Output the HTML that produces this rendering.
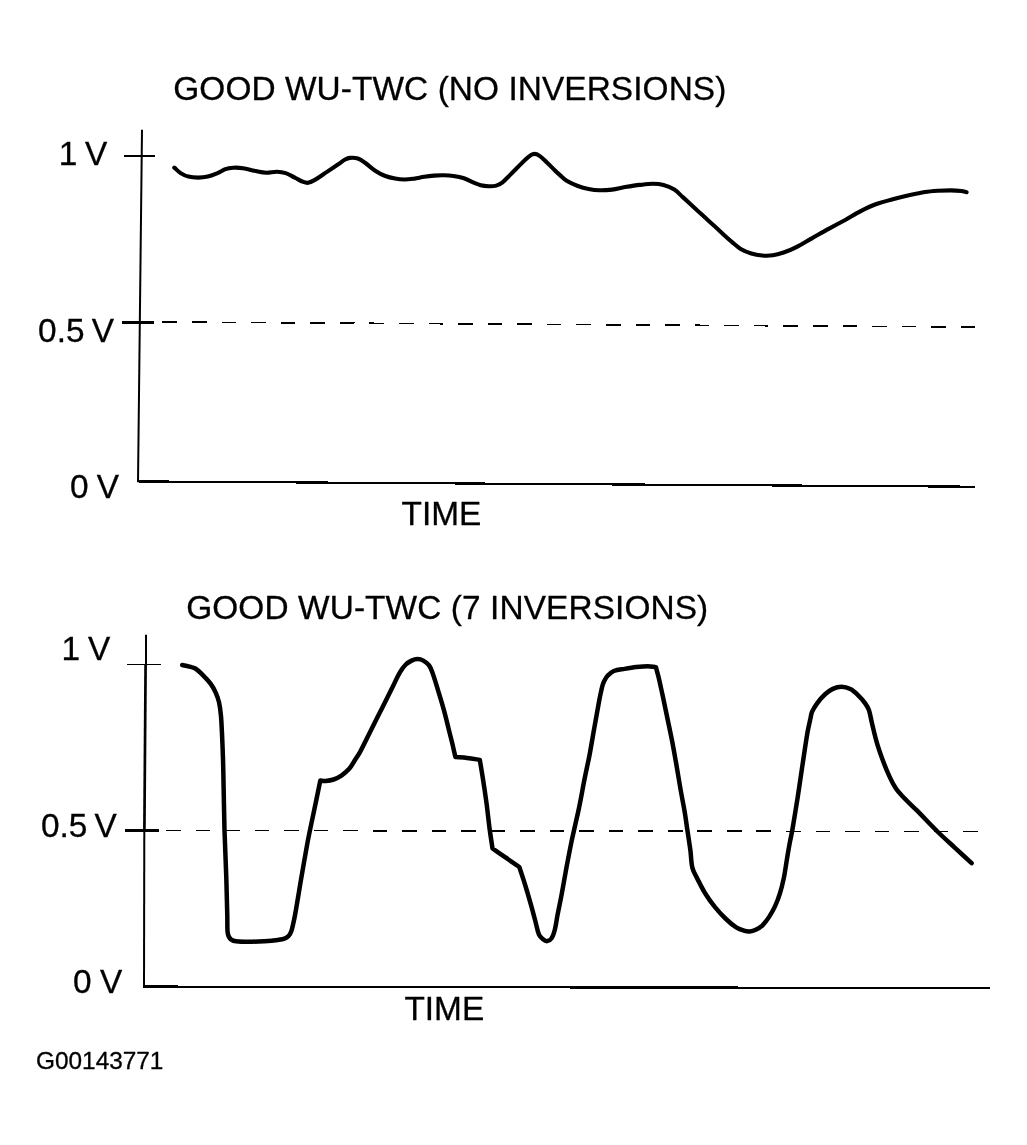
<!DOCTYPE html>
<html lang="en">
<head>
<meta charset="utf-8">
<title>GOOD WU-TWC inversions</title>
<style>
html,body{margin:0;padding:0;background:#fff;}
body{width:1027px;height:1145px;overflow:hidden;}
svg{display:block;will-change:transform;transform:translateZ(0);}
text{font-family:"Liberation Sans",sans-serif;fill:#000;stroke:#000;stroke-width:0.3px;}
.t{font-size:33.4px;}
.g{font-size:24.4px;}
.ax{stroke:#000;fill:none;stroke-linecap:butt;shape-rendering:crispEdges;}
.va{shape-rendering:geometricPrecision;}
.cv{stroke:#000;fill:none;stroke-width:4.5;stroke-linecap:round;stroke-linejoin:round;}
</style>
</head>
<body>
<svg width="1027" height="1145" viewBox="0 0 1027 1145">
<rect width="1027" height="1145" fill="#fff"/>

<!-- ===== chart 1 ===== -->
<text class="t" x="173.3" y="100.3" textLength="553" lengthAdjust="spacing">GOOD WU-TWC (NO INVERSIONS)</text>
<text class="t" y="165.1"><tspan x="58.7">1</tspan> <tspan x="85">V</tspan></text>
<text class="t" y="341.8"><tspan x="38.1">0.5</tspan> <tspan x="91.7">V</tspan></text>
<text class="t" y="498.3"><tspan x="70">0</tspan> <tspan x="96.7">V</tspan></text>
<text class="t" x="401.6" y="525">TIME</text>
<!-- axes -->
<path class="ax va" stroke-width="2" d="M142 129.8L138 482.3"/>
<path class="ax" stroke-width="2.2" d="M137 481.4L975 486.7"/>
<path class="ax" stroke-width="2" d="M124 156H155"/>
<path class="ax" stroke-width="3" d="M122 322.5H154"/>
<path class="ax" stroke-width="1.6" stroke-dasharray="14.6 14.97" d="M162.5 322L975 327"/>
<path class="cv" style="stroke-width:4.1" d="M174.3 167.6C176.4 169.4 178.3 171.6 180.6 173.1C183.0 174.6 185.6 175.9 188.4 176.6C191.5 177.4 194.8 177.6 198.1 177.6C201.4 177.6 204.6 177.3 207.8 176.6C211.2 175.8 214.4 174.4 217.6 173.1C220.3 172.0 222.7 170.2 225.4 169.2C227.9 168.3 230.6 167.9 233.2 167.7C236.4 167.5 239.7 167.7 242.9 168.2C246.9 168.8 250.7 170.0 254.6 170.8C258.5 171.5 262.4 172.5 266.3 172.7C269.9 172.8 273.4 171.6 277.0 171.7C279.9 171.8 282.9 172.2 285.7 173.1C289.2 174.3 292.2 176.4 295.5 178.0C298.1 179.3 300.6 180.9 303.3 181.9C304.8 182.5 306.5 183.1 308.1 182.8C310.5 182.4 312.8 181.1 314.9 179.9C319.0 177.6 322.7 174.7 326.6 172.1C330.5 169.5 334.4 166.9 338.3 164.3C340.6 162.7 342.7 160.8 345.1 159.5C346.6 158.7 348.3 158.0 350.0 157.9C352.6 157.7 355.3 157.7 357.8 158.5C360.5 159.4 362.7 161.2 365.0 162.8C368.7 165.4 371.9 168.6 375.6 171.0C378.6 173.0 381.9 174.7 385.3 176.0C388.4 177.2 391.8 178.0 395.1 178.6C398.3 179.2 401.6 179.5 404.8 179.5C408.0 179.5 411.3 179.0 414.5 178.6C417.8 178.1 421.0 177.3 424.3 176.8C427.5 176.3 430.8 175.9 434.0 175.6C437.2 175.3 440.5 175.1 443.7 175.2C447.0 175.3 450.3 175.5 453.5 176.0C456.8 176.5 460.1 177.0 463.2 178.0C466.6 179.1 469.7 180.9 473.0 182.3C475.5 183.3 478.0 184.5 480.7 185.2C483.2 185.8 485.9 186.1 488.5 186.2C491.1 186.3 493.8 186.3 496.3 185.6C498.4 185.0 500.5 183.9 502.2 182.6C505.0 180.4 507.4 177.6 509.9 175.1C512.5 172.5 515.1 169.9 517.7 167.3C520.3 164.7 522.8 162.0 525.5 159.5C527.1 158.0 528.6 156.5 530.4 155.4C531.6 154.7 532.9 153.9 534.3 153.9C536.0 153.9 537.8 154.6 539.2 155.6C542.0 157.5 544.4 160.1 546.9 162.4C549.6 164.9 552.1 167.6 554.7 170.2C556.4 171.9 558.2 173.5 560.0 175.1C562.3 177.1 564.5 179.5 567.1 181.1C570.4 183.1 574.1 184.6 577.8 186.0C581.3 187.3 584.9 188.3 588.6 189.0C592.1 189.7 595.7 190.2 599.3 190.3C603.6 190.4 607.9 190.1 612.1 189.6C616.4 189.1 620.7 187.8 625.0 187.1C630.0 186.3 635.0 185.5 640.0 184.9C644.3 184.4 648.5 183.8 652.8 183.8C656.4 183.8 660.0 184.0 663.5 184.9C667.3 185.9 671.0 187.5 674.3 189.6C677.5 191.6 680.0 194.6 682.8 197.1C687.1 201.0 691.4 205.0 695.7 208.9C700.0 212.8 704.2 216.8 708.5 220.7C712.8 224.6 717.1 228.6 721.4 232.5C724.9 235.7 728.5 239.0 732.1 242.1C734.9 244.5 737.5 247.1 740.7 249.0C744.0 251.0 747.7 252.4 751.4 253.5C754.9 254.6 758.5 255.2 762.1 255.5C765.7 255.8 769.3 255.8 772.9 255.3C776.6 254.8 780.1 253.7 783.6 252.5C788.0 251.0 792.3 249.2 796.4 247.1C801.5 244.5 806.4 241.4 811.4 238.6C817.1 235.4 822.8 232.1 828.6 228.9C834.3 225.8 840.0 222.8 845.7 219.7C850.7 216.9 855.6 213.7 860.7 211.1C865.6 208.6 870.5 206.2 875.7 204.3C881.3 202.3 887.1 200.8 892.8 199.3C898.5 197.8 904.2 196.4 910.0 195.1C915.0 194.0 920.0 192.9 925.0 192.1C929.2 191.4 933.5 191.1 937.8 190.8C942.1 190.5 946.4 190.4 950.7 190.4C954.3 190.4 957.9 190.6 961.4 191.0C963.2 191.2 964.9 191.8 966.6 192.2"/>

<!-- ===== chart 2 ===== -->
<text class="t" x="186.2" y="619.4" textLength="522" lengthAdjust="spacing">GOOD WU-TWC (7 INVERSIONS)</text>
<text class="t" y="660.3"><tspan x="61.4">1</tspan> <tspan x="88">V</tspan></text>
<text class="t" y="837"><tspan x="41">0.5</tspan> <tspan x="94.6">V</tspan></text>
<text class="t" y="993"><tspan x="73">0</tspan> <tspan x="100.1">V</tspan></text>
<text class="t" x="404.4" y="1020">TIME</text>
<!-- axes -->
<path class="ax va" stroke-width="2" d="M146 634.8V664"/><path class="ax va" stroke-width="2.7" d="M145.6 664L144.4 830"/><path class="ax va" stroke-width="2" d="M144.3 830L144 987.7"/>
<path class="ax" stroke-width="2.3" d="M143 986.6L990 988.1"/>
<path class="ax" stroke-width="1" d="M127 664.5H161"/>
<path class="ax" stroke-width="3" d="M124.5 830.5H158.8"/>
<path class="ax" stroke-width="1.4" stroke-dasharray="14.6 14.92" d="M166.1 830.6L979 831.4"/>
<path class="cv" d="M182.2 665.0C184.6 665.5 187.1 666.0 189.5 666.6C191.5 667.1 193.6 667.4 195.3 668.5C198.2 670.4 200.7 672.9 203.1 675.3C205.9 678.1 208.6 680.9 210.9 684.1C212.9 686.8 214.5 689.8 215.8 692.8C217.2 696.0 218.4 699.2 219.1 702.6C220.1 707.1 220.6 711.6 221.0 716.2C221.5 722.0 221.7 727.9 222.0 733.7C222.4 742.2 222.7 750.6 223.0 759.1C223.3 768.2 223.4 777.2 223.6 786.3C223.9 800.9 224.1 815.5 224.5 830.1C225.0 845.9 225.8 861.8 226.3 877.6C226.7 890.4 227.0 903.2 227.3 916.0C227.4 921.0 227.2 926.0 227.5 931.0C227.6 932.7 227.8 934.4 228.5 936.0C229.1 937.4 230.1 938.7 231.3 939.6C232.7 940.6 234.3 941.1 236.0 941.3C240.2 941.8 244.5 941.8 248.7 941.8C253.9 941.8 259.1 941.5 264.3 941.2C268.8 940.9 273.4 940.5 277.9 939.9C280.1 939.6 282.4 939.4 284.5 938.6C286.0 938.0 287.5 937.2 288.6 936.0C289.8 934.7 290.6 933.1 291.2 931.5C292.0 929.5 292.4 927.3 292.9 925.2C293.8 921.2 294.7 917.1 295.4 913.0C297.5 901.3 299.3 889.6 301.3 877.9C303.2 866.9 305.1 855.8 307.1 844.8C308.4 837.6 309.9 830.5 311.4 823.4C312.9 816.3 314.4 809.1 315.9 802.0C317.4 794.9 318.8 787.7 320.3 780.6C322.1 780.7 324.0 781.1 325.8 780.9C328.4 780.7 331.1 780.3 333.6 779.5C336.4 778.6 339.0 777.2 341.4 775.6C344.2 773.6 346.9 771.4 349.2 768.8C351.5 766.2 353.1 763.0 355.0 760.0C356.7 757.4 358.5 754.8 360.0 752.1C364.1 744.4 367.8 736.5 371.7 728.7C375.6 720.9 379.5 713.2 383.4 705.4C386.6 698.9 389.9 692.4 393.1 685.9C395.4 681.4 397.3 676.7 399.9 672.3C401.6 669.5 403.5 666.8 405.8 664.5C407.4 662.9 409.5 661.6 411.6 660.6C413.4 659.8 415.4 659.1 417.4 659.1C419.4 659.1 421.5 659.6 423.3 660.6C425.5 661.8 427.6 663.4 429.1 665.4C431.0 668.0 431.9 671.2 433.0 674.2C434.8 679.3 436.3 684.6 437.9 689.8C439.9 696.3 441.9 702.8 443.7 709.3C445.5 715.7 447.0 722.2 448.6 728.7C449.9 733.9 451.2 739.1 452.5 744.3C453.5 748.5 454.4 752.8 455.4 757.0C459.3 757.3 463.2 757.4 467.1 757.9C471.4 758.4 475.6 759.2 479.8 759.9C480.8 765.7 481.8 771.6 482.7 777.4C484.1 786.2 485.4 794.9 486.6 803.7C487.7 812.1 488.5 820.5 489.6 828.9C490.5 835.4 491.5 841.9 492.5 848.4C496.7 851.3 500.9 854.3 505.1 857.2C509.8 860.5 514.6 863.7 519.3 867.0C521.1 872.5 523.0 878.0 524.7 883.5C526.7 889.9 528.6 896.4 530.4 902.9C532.1 908.7 533.6 914.6 535.2 920.5C536.5 925.2 537.1 930.1 539.0 934.6C539.8 936.5 541.4 938.0 543.0 939.3C544.2 940.3 545.8 941.3 547.3 941.1C549.0 940.9 550.6 939.6 551.6 938.2C553.2 935.8 554.0 933.0 554.7 930.2C556.0 925.1 556.6 919.8 557.6 914.6C558.9 908.1 560.3 901.7 561.5 895.2C563.2 886.1 564.7 877.0 566.4 867.9C568.0 859.5 569.6 851.0 571.3 842.6C572.5 836.7 573.9 830.9 575.2 825.1C576.5 819.2 577.9 813.4 579.1 807.5C581.0 798.3 582.6 789.0 584.4 779.8C586.0 771.6 587.9 763.4 589.5 755.2C591.2 746.1 592.7 737.0 594.3 727.9C595.9 718.8 597.5 709.7 599.2 700.6C600.1 696.0 601.0 691.5 602.1 687.0C602.6 685.0 603.2 683.0 604.1 681.2C605.2 679.1 606.4 677.0 608.0 675.3C609.7 673.6 611.6 671.9 613.8 671.0C617.2 669.7 620.9 669.5 624.5 668.9C628.4 668.2 632.3 667.5 636.2 667.1C640.1 666.7 644.0 666.3 647.9 666.3C650.6 666.3 653.2 666.9 655.9 667.2C656.8 670.6 657.8 673.9 658.6 677.3C660.0 683.1 661.2 689.0 662.5 694.8C664.2 702.6 665.8 710.4 667.4 718.2C669.0 726.0 670.7 733.7 672.2 741.5C673.6 748.7 674.8 755.8 676.1 763.0C677.6 771.5 678.9 780.0 680.4 788.5C681.7 796.1 683.3 803.7 684.6 811.4C685.7 817.9 686.5 824.4 687.5 830.9C688.5 837.4 689.5 843.9 690.4 850.4C691.2 856.2 691.0 862.2 692.4 867.9C693.3 871.7 695.5 875.1 697.3 878.6C699.8 883.5 702.2 888.5 705.1 893.2C708.0 897.9 711.3 902.5 714.8 906.8C718.4 911.3 722.3 915.5 726.5 919.5C729.5 922.4 732.7 925.1 736.2 927.3C738.6 928.8 741.3 929.8 744.0 930.6C745.9 931.2 747.9 931.5 749.8 931.4C751.8 931.3 753.9 930.7 755.7 929.8C758.2 928.6 760.5 927.2 762.5 925.3C765.1 922.7 767.3 919.7 769.3 916.6C771.5 913.2 773.5 909.6 775.2 905.9C777.1 901.8 778.7 897.5 780.0 893.2C781.6 888.1 782.8 882.9 783.9 877.6C785.1 871.8 785.8 865.9 786.8 860.1C787.8 854.3 788.7 848.4 789.8 842.6C790.7 837.9 791.8 833.2 792.6 828.5C794.4 817.9 796.1 807.2 797.8 796.6C799.5 785.6 801.0 774.5 802.7 763.5C804.3 753.1 805.7 742.7 807.5 732.3C808.3 727.7 809.4 723.2 810.4 718.7C810.9 716.4 811.1 714.0 812.0 711.9C813.4 708.8 815.3 705.8 817.3 703.1C819.6 700.0 822.2 696.9 825.1 694.3C827.4 692.2 830.0 690.2 832.8 688.9C835.5 687.6 838.6 686.7 841.6 686.7C844.6 686.7 847.7 687.7 850.4 689.1C853.3 690.6 855.8 693.0 858.2 695.3C860.7 697.7 863.0 700.3 865.0 703.1C866.5 705.2 868.0 707.4 868.9 709.9C870.3 714.0 870.8 718.4 871.8 722.6C873.4 729.1 874.8 735.7 876.7 742.1C878.4 748.0 880.4 753.8 882.5 759.6C884.6 765.2 886.8 770.7 889.3 776.1C891.3 780.5 893.4 784.8 896.1 788.8C898.3 792.1 901.2 794.9 903.9 797.8C908.0 802.1 912.4 806.0 916.6 810.2C923.6 817.2 930.3 824.6 937.4 831.5C943.1 837.1 949.1 842.4 955.0 847.8C960.5 852.9 966.1 858.1 971.6 863.2"/>

<text class="g" x="36.1" y="1069.2" textLength="127.3" lengthAdjust="spacing">G00143771</text>
</svg>
</body>
</html>
